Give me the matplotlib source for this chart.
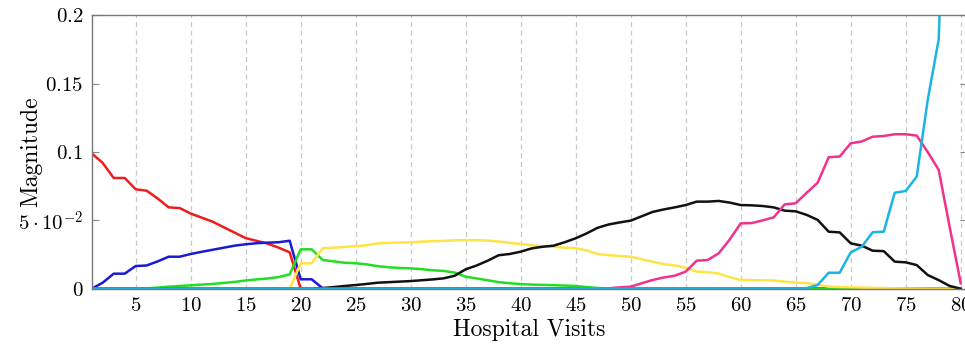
import numpy as np
import matplotlib
matplotlib.use('Agg')
import matplotlib.pyplot as plt

plt.rcParams['font.family'] = 'serif'
plt.rcParams['font.serif'] = ['cmr10', 'DejaVu Serif']
plt.rcParams['mathtext.fontset'] = 'cm'
plt.rcParams['axes.unicode_minus'] = False

visits = np.arange(1, 81)

# values, zeros filled where the curve sits on the axis
red = [0.099, 0.092, 0.081, 0.081, 0.0727, 0.0717, 0.066, 0.0595, 0.059, 0.055,
       0.052, 0.049, 0.045, 0.041, 0.037, 0.035, 0.033, 0.030, 0.0266, 0.0] + [0.0] * 60

blue = [0.0, 0.0044, 0.011, 0.011, 0.0166, 0.017, 0.020, 0.0234, 0.0234, 0.0254,
        0.027, 0.0285, 0.030, 0.0315, 0.0325, 0.0333, 0.0337, 0.034, 0.0351, 0.0069,
        0.0069, 0.0003] + [0.0] * 58

green = [0.0, 0.0, 0.0, 0.0, 0.0001, 0.0003, 0.0008, 0.0015, 0.002, 0.0025,
         0.003, 0.0035, 0.0042, 0.005, 0.006, 0.0068, 0.0075, 0.0085, 0.0105, 0.0288,
         0.0288, 0.021, 0.020, 0.019, 0.0186, 0.0178, 0.0165, 0.0157, 0.0152, 0.0149,
         0.0143, 0.0135, 0.013, 0.0118, 0.0088, 0.0075, 0.0062, 0.0048, 0.004, 0.0034,
         0.003, 0.0028, 0.0026, 0.0023, 0.002, 0.0012, 0.0005, 0.0002] + [0.0] * 32

yellow = [0.0] * 19 + [
    0.0186, 0.0186, 0.0296, 0.030, 0.0306, 0.0312, 0.0318, 0.0332, 0.0335, 0.0338,
    0.034, 0.0344, 0.0348, 0.035, 0.0354, 0.0356, 0.0355, 0.0352, 0.0345, 0.0335,
    0.0327, 0.0318, 0.031, 0.0307, 0.030, 0.0296, 0.028, 0.0254, 0.0245, 0.024,
    0.0234, 0.0215, 0.0198, 0.018, 0.017, 0.0154, 0.0125, 0.0122, 0.011, 0.0085,
    0.0064, 0.0063, 0.0062, 0.006, 0.0052, 0.0044, 0.0042, 0.003, 0.0015, 0.0012,
    0.001, 0.0008, 0.0006, 0.0005, 0.0003, 0.0002, 0.0001, 0.0, 0.0, 0.0, 0.0]

black = [0.0] * 21 + [
    0.0005, 0.0012, 0.002, 0.0027, 0.0035, 0.0044, 0.0048, 0.0052, 0.0056, 0.0062,
    0.0068, 0.0076, 0.0095, 0.0142, 0.017, 0.0205, 0.0245, 0.0254, 0.0271, 0.0295,
    0.0307, 0.0315, 0.034, 0.0369, 0.0405, 0.0446, 0.047, 0.0485, 0.0498, 0.053,
    0.0562, 0.058, 0.0595, 0.0612, 0.0637, 0.0637, 0.0642, 0.063, 0.0612, 0.061,
    0.0605, 0.0595, 0.0571, 0.0566, 0.054, 0.0503, 0.0417, 0.0412, 0.0332, 0.0315,
    0.0278, 0.0275, 0.0198, 0.0193, 0.0173, 0.010, 0.0063, 0.002, 0.0]

pink = [0.0] * 47 + [
    0.0003, 0.001, 0.0015, 0.004, 0.0064, 0.0082, 0.0095, 0.0125, 0.0205, 0.021,
    0.0259, 0.036, 0.0478, 0.048, 0.050, 0.0522, 0.0617, 0.0625, 0.0702, 0.0776,
    0.0962, 0.0967, 0.1064, 0.1077, 0.1112, 0.1117, 0.113, 0.113, 0.112, 0.100,
    0.0869, 0.045, 0.004]

cyan = [0.0] * 65 + [
    0.0005, 0.0027, 0.0117, 0.0117, 0.0266, 0.0307, 0.0413, 0.0417, 0.0702, 0.0715,
    0.082, 0.138, 0.1825, 0.42, 0.62]

series = [
    (red, '#ee1c1c'),
    (blue, '#1a1ad6'),
    (green, '#22dd22'),
    (yellow, '#ffe347'),
    (black, '#111111'),
    (pink, '#f0328c'),
    (cyan, '#1cb4e4'),
]

fig = plt.figure(figsize=(9.65, 3.44), dpi=100)
ax = fig.add_axes([0.095, 0.1607, 0.9074, 0.7948])

for values, color in series:
    ax.plot(visits, values, color=color, linewidth=1.8, solid_joinstyle='round')

ax.set_xlim(1, 80.6)
ax.set_ylim(0, 0.2)

xticks = list(range(5, 81, 5))
ax.set_xticks(xticks)
ax.set_xticklabels([f'${t}$' for t in xticks])
ax.set_yticks([0, 0.05, 0.1, 0.15, 0.2])
ax.set_yticklabels(['$0$', r'$5\cdot10^{-2}$', '$0.1$', '$0.15$', '$0.2$'])

ax.grid(axis='x', color='#c8c8c8', linestyle=(0, (4, 3)), linewidth=0.9)
ax.tick_params(axis='both', direction='in', labelsize=15, length=5,
               color='#888888', width=0.8)
ax.tick_params(axis='y', right=True, pad=6)
ax.tick_params(axis='x', length=0, pad=6)
for side in ax.spines.values():
    side.set_color('#777777')
    side.set_linewidth(1.0)

ax.set_xlabel('Hospital Visits', fontsize=17, labelpad=3)
ax.set_ylabel('Magnitude', fontsize=17)
ax.yaxis.set_label_coords(-0.057, 0.5)

fig.savefig('out.png', dpi=100)
